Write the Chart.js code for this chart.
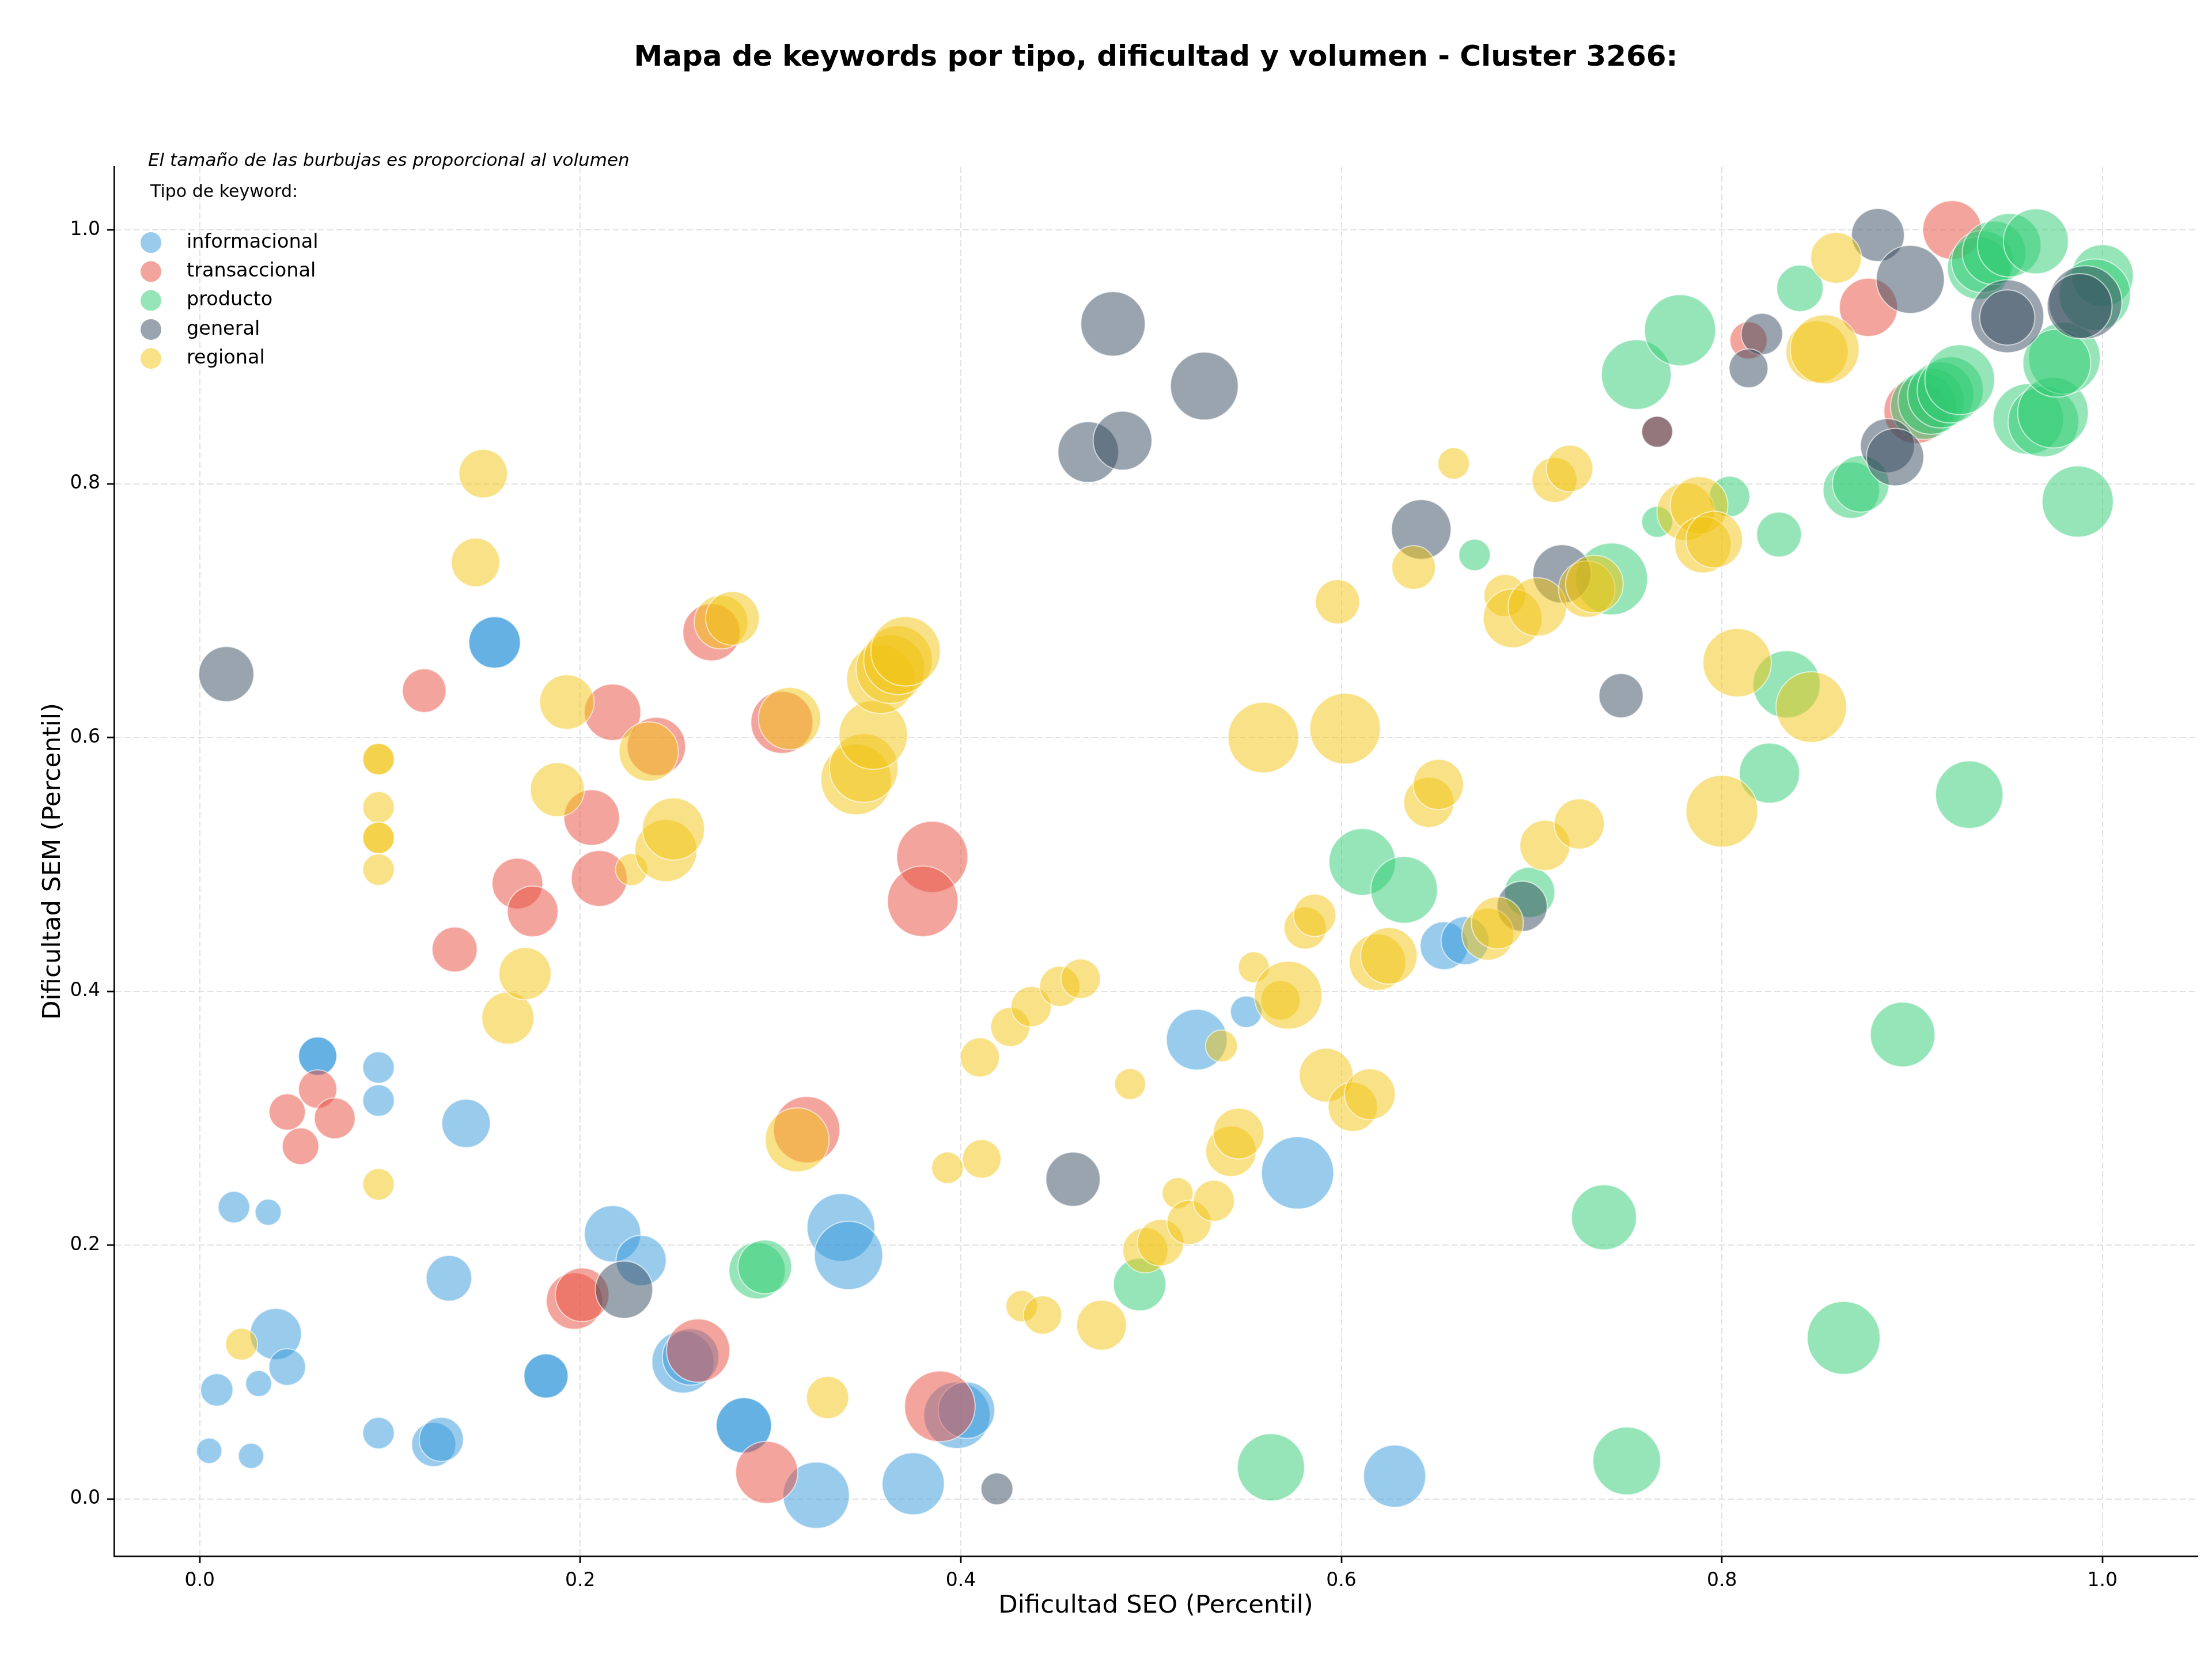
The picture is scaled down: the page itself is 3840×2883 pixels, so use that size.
<!DOCTYPE html>
<html>
<head>
<meta charset="utf-8">
<script src="https://cdn.jsdelivr.net/npm/chart.js@4.4.1/dist/chart.umd.min.js"></script>
<style>
    html, body { margin: 0; padding: 0; background: #ffffff; }
    #wrap { width: 3840px; height: 2883px; }
</style>
</head>
<body>
<div id="wrap"><canvas id="keywordMap" width="3840" height="2883"></canvas></div>
<script>
const TITLE = "Mapa de keywords por tipo, dificultad y volumen - Cluster 3266:";
const NOTE = "El tamaño de las burbujas es proporcional al volumen";
const LEGEND_TITLE = "Tipo de keyword:";
const X_LABEL = "Dificultad SEO (Percentil)";
const Y_LABEL = "Dificultad SEM (Percentil)";

const X_TICKS = [0.0, 0.2, 0.4, 0.6, 0.8, 1.0];
const Y_TICKS = [0.0, 0.2, 0.4, 0.6, 0.8, 1.0];

const TYPES = ["informacional", "transaccional", "producto", "general", "regional"];
const COLORS = ["#3498db", "#e74c3c", "#2ecc71", "#34495e", "#f1c40f"];

// [dificultad SEO, dificultad SEM, volumen]
const informacional = [
    [0.005, 0.038, 81], [0.009, 0.086, 132], [0.027, 0.034, 81], [0.031, 0.091, 85],
    [0.018, 0.230, 125], [0.036, 0.226, 86], [0.040, 0.130, 331], [0.046, 0.104, 169],
    [0.062, 0.349, 185], [0.062, 0.349, 185], [0.094, 0.340, 125], [0.094, 0.314, 125],
    [0.094, 0.052, 125], [0.123, 0.043, 246], [0.127, 0.047, 246], [0.131, 0.174, 262],
    [0.140, 0.296, 296], [0.155, 0.675, 335], [0.155, 0.675, 335], [0.182, 0.097, 246],
    [0.182, 0.097, 246], [0.217, 0.209, 400], [0.232, 0.188, 317], [0.254, 0.108, 484],
    [0.258, 0.112, 400], [0.286, 0.058, 384], [0.286, 0.058, 384], [0.337, 0.214, 576],
    [0.341, 0.192, 586], [0.324, 0.003, 552], [0.375, 0.012, 484], [0.398, 0.066, 552],
    [0.403, 0.070, 400], [0.524, 0.362, 462], [0.550, 0.384, 125], [0.577, 0.257, 655],
    [0.628, 0.018, 484], [0.654, 0.436, 289], [0.665, 0.440, 289],
];

const transaccional = [
    [0.046, 0.305, 166], [0.053, 0.278, 169], [0.062, 0.323, 185], [0.071, 0.300, 210],
    [0.118, 0.637, 240], [0.134, 0.433, 256], [0.167, 0.485, 324], [0.175, 0.463, 324],
    [0.206, 0.537, 388], [0.210, 0.489, 392], [0.217, 0.620, 400], [0.240, 0.593, 428],
    [0.197, 0.156, 400], [0.201, 0.161, 361], [0.262, 0.117, 502], [0.269, 0.683, 412],
    [0.306, 0.612, 484], [0.319, 0.291, 552], [0.298, 0.021, 484], [0.385, 0.506, 635],
    [0.380, 0.471, 625], [0.389, 0.073, 625], [0.766, 0.841, 121], [0.814, 0.913, 174],
    [0.877, 0.939, 424], [0.921, 1.000, 433], [0.902, 0.857, 515],
];

const producto = [
    [0.293, 0.180, 400], [0.297, 0.183, 361], [0.494, 0.169, 346], [0.563, 0.025, 566],
    [0.611, 0.502, 557], [0.633, 0.480, 557], [0.670, 0.744, 125], [0.699, 0.478, 317],
    [0.738, 0.222, 529], [0.742, 0.725, 650], [0.750, 0.030, 576], [0.755, 0.886, 610],
    [0.766, 0.770, 121], [0.778, 0.921, 635], [0.804, 0.790, 207], [0.830, 0.760, 253],
    [0.825, 0.572, 454], [0.834, 0.642, 566], [0.841, 0.954, 272], [0.864, 0.127, 666],
    [0.868, 0.795, 400], [0.873, 0.800, 400], [0.895, 0.366, 524], [0.930, 0.555, 571],
    [0.987, 0.786, 635], [0.906, 0.861, 548], [0.910, 0.865, 548], [0.915, 0.870, 548],
    [0.920, 0.874, 548], [0.925, 0.882, 610], [0.935, 0.970, 493], [0.937, 0.975, 484],
    [0.943, 0.982, 506], [0.951, 0.988, 506], [0.965, 0.991, 529], [0.961, 0.851, 625],
    [0.969, 0.849, 625], [0.974, 0.856, 625], [0.980, 0.899, 645], [0.976, 0.895, 576],
    [1.000, 0.964, 480], [0.996, 0.949, 640],
];

const general = [
    [0.014, 0.650, 380], [0.223, 0.165, 412], [0.419, 0.008, 128], [0.459, 0.252, 369],
    [0.467, 0.825, 462], [0.480, 0.926, 520], [0.485, 0.834, 433], [0.528, 0.877, 576],
    [0.642, 0.764, 445], [0.695, 0.467, 317], [0.716, 0.729, 428], [0.747, 0.633, 246],
    [0.766, 0.841, 121], [0.821, 0.918, 216], [0.814, 0.891, 190], [0.882, 0.996, 350],
    [0.899, 0.961, 581], [0.887, 0.830, 365], [0.891, 0.821, 412], [0.950, 0.932, 666],
    [0.950, 0.931, 380], [0.991, 0.943, 671], [0.988, 0.940, 529],
];

const regional = [
    [0.022, 0.122, 128], [0.094, 0.583, 125], [0.094, 0.583, 125], [0.094, 0.545, 125],
    [0.094, 0.521, 125], [0.094, 0.521, 125], [0.094, 0.496, 125], [0.094, 0.248, 125],
    [0.149, 0.808, 296], [0.145, 0.738, 296], [0.162, 0.379, 342], [0.171, 0.414, 342],
    [0.188, 0.559, 365], [0.193, 0.628, 372], [0.227, 0.496, 130], [0.236, 0.589, 441],
    [0.245, 0.511, 484], [0.249, 0.528, 484], [0.274, 0.691, 361], [0.280, 0.694, 361],
    [0.310, 0.615, 484], [0.314, 0.283, 511], [0.330, 0.080, 225], [0.345, 0.567, 625],
    [0.349, 0.576, 590], [0.354, 0.602, 590], [0.358, 0.646, 590], [0.363, 0.654, 590],
    [0.367, 0.661, 590], [0.371, 0.668, 605], [0.393, 0.261, 125], [0.411, 0.268, 188],
    [0.410, 0.348, 193], [0.432, 0.152, 125], [0.443, 0.145, 185], [0.426, 0.372, 193],
    [0.437, 0.388, 204], [0.452, 0.404, 204], [0.463, 0.410, 196], [0.474, 0.137, 313],
    [0.489, 0.327, 121], [0.497, 0.196, 256], [0.505, 0.202, 272], [0.514, 0.241, 121],
    [0.520, 0.218, 246], [0.533, 0.235, 213], [0.537, 0.357, 128], [0.542, 0.274, 320],
    [0.546, 0.288, 324], [0.554, 0.419, 121], [0.559, 0.600, 625], [0.568, 0.393, 196],
    [0.572, 0.397, 576], [0.581, 0.450, 225], [0.586, 0.460, 225], [0.592, 0.334, 361],
    [0.598, 0.707, 246], [0.602, 0.607, 625], [0.606, 0.309, 306], [0.615, 0.319, 324],
    [0.619, 0.423, 400], [0.625, 0.428, 400], [0.638, 0.734, 240], [0.646, 0.549, 317],
    [0.651, 0.563, 317], [0.659, 0.816, 125], [0.677, 0.445, 339], [0.682, 0.454, 339],
    [0.686, 0.712, 222], [0.690, 0.694, 433], [0.703, 0.703, 428], [0.707, 0.515, 317],
    [0.712, 0.803, 256], [0.720, 0.812, 272], [0.725, 0.532, 317], [0.729, 0.717, 400],
    [0.733, 0.721, 416], [0.781, 0.778, 416], [0.788, 0.783, 416], [0.790, 0.752, 400],
    [0.796, 0.756, 400], [0.808, 0.659, 586], [0.800, 0.542, 645], [0.847, 0.624, 625],
    [0.850, 0.904, 484], [0.854, 0.906, 595], [0.860, 0.978, 324],
];

const SERIES = [informacional, transaccional, producto, general, regional];
const PX_PER_SQRT_VOL = 2.45;
const FONT = '"DejaVu Sans", "Liberation Sans", sans-serif';

function withAlpha(hex, alpha) {
    const n = parseInt(hex.slice(1), 16);
    return `rgba(${(n >> 16) & 255}, ${(n >> 8) & 255}, ${n & 255}, ${alpha})`;
}

const datasets = TYPES.map((name, i) => ({
    label: name,
    data: SERIES[i].map(([x, y, v]) => ({ x, y, v })),
    backgroundColor: withAlpha(COLORS[i], 0.5),
    borderColor: "rgba(255, 255, 255, 0.6)",
    borderWidth: 2,
    radius: (ctx) => Math.sqrt(ctx.raw ? ctx.raw.v : 0) * PX_PER_SQRT_VOL,
    hoverRadius: 0,
    order: TYPES.length - 1 - i,
}));

// titles, axis labels and the in-plot legend
const decorations = {
    id: "decorations",
    afterDraw(chart) {
        const { ctx, chartArea: a } = chart;
        const midX = (a.left + a.right) / 2;
        ctx.save();
        ctx.fillStyle = "#000000";
        ctx.textAlign = "center";
        ctx.textBaseline = "middle";

        ctx.font = `bold 50px ${FONT}`;
        ctx.fillText(TITLE, midX, 101);

        ctx.font = `43.5px ${FONT}`;
        ctx.fillText(X_LABEL, midX, 2788);
        ctx.save();
        ctx.translate(93, (a.top + a.bottom) / 2);
        ctx.rotate(-Math.PI / 2);
        ctx.fillText(Y_LABEL, 0, 0);
        ctx.restore();

        ctx.textAlign = "left";
        ctx.font = `italic 31px ${FONT}`;
        ctx.fillText(NOTE, a.left + 59, a.top - 9);
        ctx.font = `30px ${FONT}`;
        ctx.fillText(LEGEND_TITLE, a.left + 63, a.top + 45);

        ctx.font = `33.5px ${FONT}`;
        TYPES.forEach((name, i) => {
            const y = a.top + 132 + i * 50.3;
            ctx.beginPath();
            ctx.arc(a.left + 64, y, 18, 0, Math.PI * 2);
            ctx.fillStyle = withAlpha(COLORS[i], 0.5);
            ctx.fill();
            ctx.fillStyle = "#000000";
            ctx.fillText(name, a.left + 126, y);
        });
        ctx.restore();
    },
};

function axis(min, max, ticks, size, key) {
    return {
        type: "linear",
        min,
        max,
        afterBuildTicks: (s) => { s.ticks = ticks.map((value) => ({ value })); },
        afterFit: (s) => {
            s[key] = size;
            s.paddingLeft = s.paddingRight = s.paddingTop = s.paddingBottom = 0;
        },
        ticks: {
            color: "#000000",
            padding: 12,
            font: { family: FONT, size: 33 },
            callback: (v) => Number(v).toFixed(1),
        },
        grid: {
            color: "#e2e2e2",
            lineWidth: 2,
            drawTicks: true,
            tickLength: 12,
            tickWidth: 2.7,
            tickColor: "#000000",
        },
        border: {
            display: true,
            color: "#000000",
            width: 2.7,
            dash: [11, 5],
        },
    };
}

new Chart(document.getElementById("keywordMap"), {
    type: "bubble",
    data: { datasets },
    options: {
        responsive: false,
        devicePixelRatio: 1,
        animation: false,
        layout: {
            autoPadding: false,
            padding: { left: 0, top: 289, right: 25, bottom: 0 },
        },
        plugins: {
            legend: { display: false },
            tooltip: { enabled: false },
            title: { display: false },
        },
        scales: {
            x: axis(-0.045, 1.05, X_TICKS, 182, "height"),
            y: axis(-0.045, 1.05, Y_TICKS, 198, "width"),
        },
    },
    plugins: [decorations],
});
</script>
</body>
</html>
